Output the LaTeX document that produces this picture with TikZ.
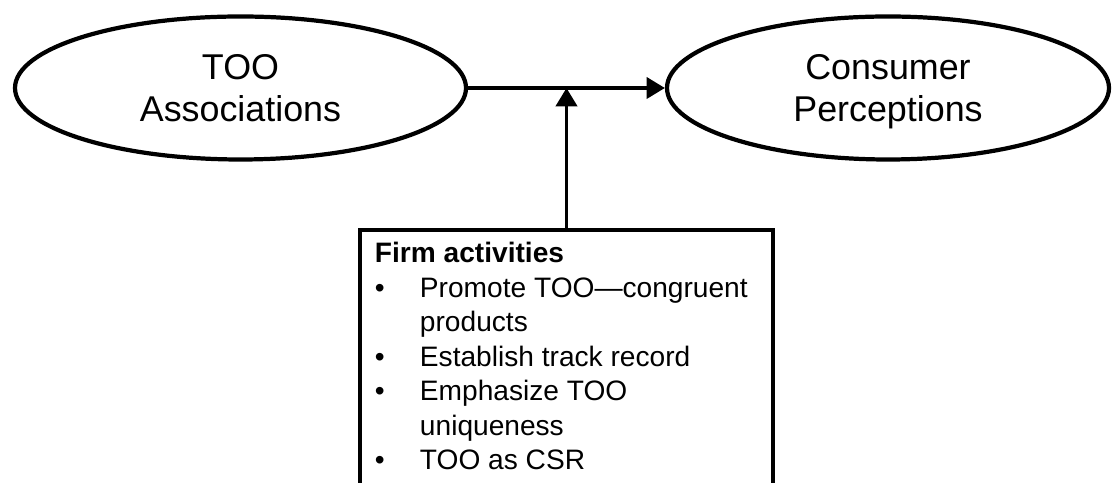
\documentclass[tikz,border=0pt]{standalone}
\usepackage{fontspec}
\setmainfont{Liberation Sans}
\usepackage{tikz}
\usetikzlibrary{shapes.geometric,arrows.meta,positioning,calc}

\newcommand{\itembul}{\makebox[1.125cm][l]{\textbullet}}

\begin{document}
\begin{tikzpicture}[
    oval/.style={draw, ellipse, line width=3pt, inner sep=0pt, align=center,
      text depth=0pt, font=\fontsize{25.5}{30.5}\selectfont},
    link/.style={line width=2.5pt, -{Triangle[length=13pt,width=15pt]}},
    box/.style={draw, rectangle, line width=2.4pt, inner sep=0pt}
  ]
        % Fix the page size and cut off the lower part of the box
        \useasboundingbox (0,0) rectangle (27.8,12.075);
        \clip (0,0) rectangle (27.8,12.075);

        % Draw the two ellipses
        \node[oval, minimum width=11.275cm, minimum height=3.575cm] (too) at (6.0125,9.875) {TOO\\Associations};
        \node[oval, minimum width=11.05cm, minimum height=3.575cm] (cons) at (22.2,9.875) {Consumer\\Perceptions};

        % Draw the arrow between them
        \draw[link] (too.east) -- (cons.west);
        \coordinate (mid) at ($(too.east)!0.5!(cons.west)$);

        % Draw the box of firm activities
        \node[box, minimum width=10.325cm, minimum height=6.8cm, anchor=north] (firm) at ($(mid)+(0,-3.5125)$) {};
        \node[anchor=base west, inner sep=0pt, font=\fontsize{20}{24.5}\selectfont] (list)
          at ($(firm.north west)+(0.41,-0.8625)$) {%
          \begin{tabular}[t]{@{}l@{}}
            \textbf{Firm activities}\\
            \itembul Promote TOO—congruent\\
            \hspace*{1.125cm}products\\
            \itembul Establish track record\\
            \itembul Emphasize TOO\\
            \hspace*{1.125cm}uniqueness\\
            \itembul TOO as CSR
          \end{tabular}};

        % Draw the arrow from the box up to the line
        \draw[link] (firm.north) -- (mid);
\end{tikzpicture}
\end{document}
